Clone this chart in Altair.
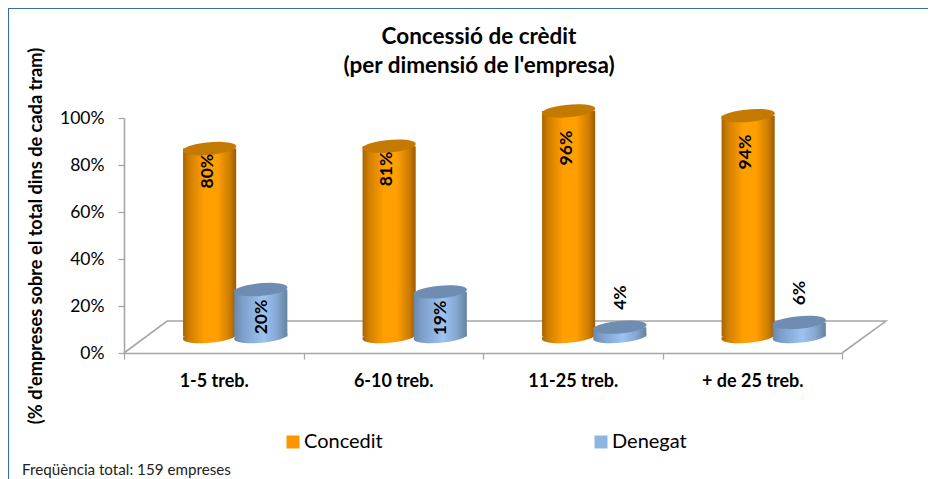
import altair as alt
import pandas as pd

categories = ["1-5 treb.", "6-10 treb.", "11-25 treb.", "+ de 25 treb."]
concedit = [80, 81, 96, 94]
denegat = [20, 19, 4, 6]
# height on the value axis where each rotated data label is centred
concedit_label_at = [77.4, 78.3, 87.2, 85.5]
denegat_label_at = [15.3, 14.9, 23.6, 25.5]
series_names = ["Concedit", "Denegat"]
title_lines = ["Concessió de crèdit", "(per dimensió de l'empresa)"]
y_title = "(% d'empreses sobre el total dins de cada tram)"
footnote = "Freqüència total: 159 empreses"
y_ticks = [0, 20, 40, 60, 80, 100]
x_ticks = [0, 1, 2, 3, 4]

FONT = "Lato"
LIFT = 7          # the 3-D floor raises the cylinders above the axis
HALF = 0.148      # cylinder half width, in category units
ORANGE_X, BLUE_X = 0.477, 0.762
GREY = "#a6a6a6"
ELLIPSE = "M -0.996 0.087 A 1 0.23 -5 1 1 0.996 -0.087 A 1 0.23 -5 1 1 -0.996 0.087 Z"
ELL_SIZE = 53.5 ** 2

def frame(values, labels, offset):
    d = pd.DataFrame({"value": values, "label_at": labels})
    d["cx"] = [i + offset for i in range(len(values))]
    d["x1"] = d["cx"] - HALF
    d["x2"] = d["cx"] + HALF
    d["base"] = LIFT
    d["top"] = d["value"] + LIFT
    d["text"] = [f"{v}%" for v in values]
    return d

orange = frame(concedit, concedit_label_at, ORANGE_X)
blue = frame(denegat, denegat_label_at, BLUE_X)

def grad(stops):
    return alt.Gradient(gradient="linear", x1=0, x2=1, y1=0, y2=0,
                        stops=[alt.GradientStop(offset=o, color=c) for o, c in stops])

orange_grad = grad([(0, "#a96300"), (0.12, "#d07f00"), (0.4, "#ff9f00"), (0.65, "#ff9f00"), (0.88, "#cc7c00"), (1, "#9c5b00")])
blue_grad = grad([(0, "#6987ad"), (0.15, "#7c9ec8"), (0.55, "#9cc3f2"), (0.8, "#86a8d2"), (1, "#66829f")])

label_expr = "[" + ",".join(repr(c) for c in categories) + ",''][datum.value]"
x_scale = alt.Scale(domain=[0, 4], nice=False, zero=False)
y_scale = alt.Scale(domain=[0, 100], nice=False)
x_enc = lambda f: alt.X(f, type="quantitative", scale=x_scale, title=None,
                        axis=alt.Axis(values=x_ticks, labelExpr=label_expr, labelOffset=89.75,
                                      labelFont=FONT, labelFontSize=18, labelFontWeight="bold",
                                      labelColor="#000", labelPadding=13, labelFlush=False,
                                      labelOverlap=False, grid=False, domainColor=GREY, domainWidth=1.6,
                                      tickColor=GREY, tickWidth=1.3, tickSize=6))
y_enc = lambda f: alt.Y(f, type="quantitative", scale=y_scale,
                        axis=alt.Axis(values=y_ticks, labelExpr="datum.value + '%'",
                                      labelFont=FONT, labelFontSize=17.5, labelColor="#000", labelPadding=14,
                                      grid=False, domainColor=GREY, domainWidth=1.6, tickColor=GREY,
                                      tickWidth=1.3, tickSize=6, title=y_title, titleFont=FONT,
                                      titleFontSize=18.2, titleFontWeight="bold", titleColor="#000",
                                      titlePadding=14))

floor = pd.DataFrame({"x": [0, 0.24, 4.245, 4], "y": [0, 13.6, 13.6, 0], "o": [0, 1, 2, 3]})
floor_line = alt.Chart(floor).mark_line(color=GREY, strokeWidth=1.6).encode(
    x=x_enc("x"), y=y_enc("y"), order="o:Q")

frame_rect = alt.Chart(pd.DataFrame({"a": [0]})).mark_rect(
    fill="transparent", stroke="#3a6ea5", strokeWidth=1.2
).encode(x=alt.value(-115.5), x2=alt.value(830), y=alt.value(-109.5), y2=alt.value(380))

def cylinder(d, g, top_color):
    bottom = alt.Chart(d).mark_point(shape=ELLIPSE, size=ELL_SIZE, filled=True, fill=g,
                                     strokeWidth=0, opacity=1).encode(x=x_enc("cx"), y=y_enc("base"))
    body = alt.Chart(d).mark_rect(fill=g, strokeWidth=0).encode(
        x=x_enc("x1"), x2="x2:Q", y=y_enc("top"), y2="base:Q")
    top = alt.Chart(d).mark_point(shape=ELLIPSE, size=ELL_SIZE, filled=True, fill=top_color,
                                  strokeWidth=0, opacity=1).encode(x=x_enc("cx"), y=y_enc("top"))
    return [bottom, body, top]

def labels(d, dy):
    # with the text turned 270 degrees, dy shifts it sideways on the page
    return alt.Chart(d).mark_text(font=FONT, fontSize=17.5, fontWeight="bold", angle=270, color="#000",
                                  align="center", baseline="middle", dy=dy).encode(
        x=x_enc("cx"), y=y_enc("label_at"), text="text:N")

legend_data = pd.DataFrame({"cx": [1, 2], "value": [50, 50], "series": series_names})
legend_layer = alt.Chart(legend_data).mark_square(opacity=0).encode(
    x=x_enc("cx"), y=y_enc("value"),
    color=alt.Color("series:N", scale=alt.Scale(domain=series_names, range=["#ff9300", "#8db4e2"]),
                    legend=alt.Legend(title=None, orient="none", legendX=159, legendY=314, direction="horizontal",
                                      columns=2, symbolType="square", symbolSize=169, symbolOpacity=1,
                                      symbolStrokeWidth=0, labelFont=FONT, labelFontSize=20, labelColor="#000",
                                      labelOffset=1, columnPadding=208, gridAlign="each")))

note = alt.Chart(pd.DataFrame({"t": [footnote]})).mark_text(
    font=FONT, fontSize=15.2, color="#222", align="left", baseline="alphabetic"
).encode(x=alt.value(-102), y=alt.value(357), text="t:N")

title_marks = [
    alt.Chart(pd.DataFrame({"t": [line]})).mark_text(
        font=FONT, fontSize=22.5, fontWeight="bold", color="#000", align="center", baseline="alphabetic"
    ).encode(x=alt.value(355), y=alt.value(py), text="t:N")
    for line, py in zip(title_lines, [-74, -45])
]

layers = [frame_rect, floor_line, legend_layer]
layers += cylinder(orange, orange_grad, "#c47a00")
layers += cylinder(blue, blue_grad, "#6f8db3")
layers += [labels(orange, -2), labels(blue, 1), note] + title_marks

chart = alt.layer(*layers).properties(
    width=718, height=235,
    padding={"left": 116, "top": 110, "right": 86, "bottom": 126},
    autosize=alt.AutoSizeParams(type="none"),
    background="white",
).configure_view(stroke=None)

chart.save("out.html", embed_options={"renderer": "svg", "actions": False})
